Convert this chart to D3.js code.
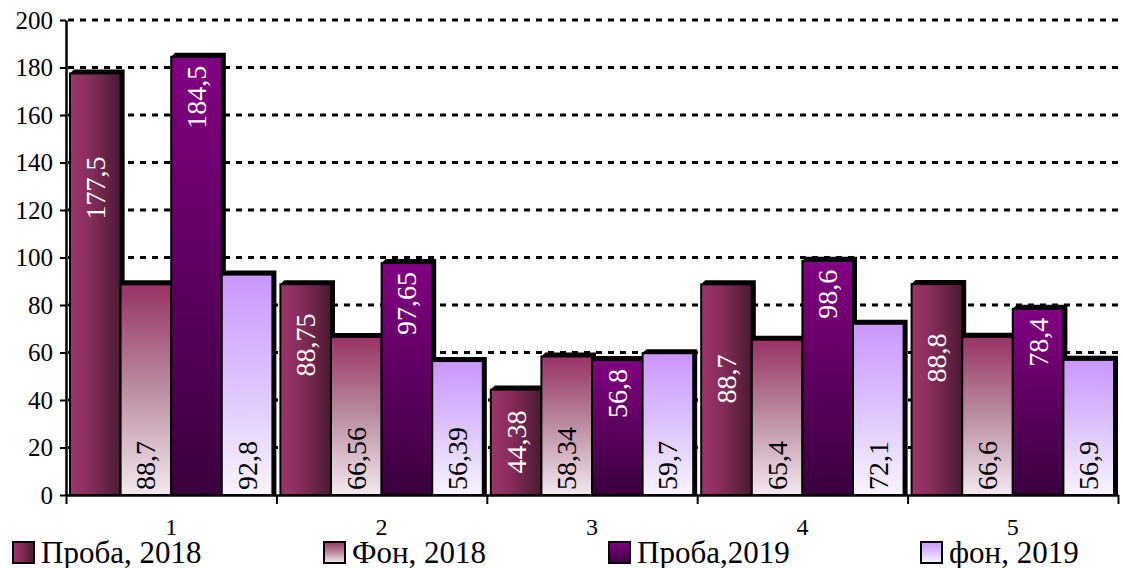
<!DOCTYPE html>
<html>
<head>
<meta charset="utf-8">
<script src="https://cdn.jsdelivr.net/npm/d3@7"></script>
<style>
  html, body { margin: 0; padding: 0; background: #fff; }
</style>
</head>
<body>
<svg id="chart" width="1123" height="568"></svg>
<script>
// Data
const categories = ["1", "2", "3", "4", "5"];
const seriesNames = ["Проба, 2018", "Фон, 2018", "Проба,2019", "фон, 2019"];
const proba2018 = [177.5, 88.75, 44.38, 88.7, 88.8];
const fon2018 = [88.7, 66.56, 58.34, 65.4, 66.6];
const proba2019 = [184.5, 97.65, 56.8, 98.6, 78.4];
const fon2019 = [92.8, 56.39, 59.7, 72.1, 56.9];
const yTicks = [0, 20, 40, 60, 80, 100, 120, 140, 160, 180, 200];
const valueLabels2018 = ["177,5", "88,75", "44,38", "88,7", "88,8"];
const valueLabelsFon2018 = ["88,7", "66,56", "58,34", "65,4", "66,6"];
const valueLabels2019 = ["184,5", "97,65", "56,8", "98,6", "78,4"];
const valueLabelsFon2019 = ["92,8", "56,39", "59,7", "72,1", "56,9"];

const seriesValues = [proba2018, fon2018, proba2019, fon2019];
const seriesLabels = [valueLabels2018, valueLabelsFon2018, valueLabels2019, valueLabelsFon2019];

// Label placement for the first series (centre of the text, in axis units)
const proba2018LabelCentre = [129.3, 63.2, 22.3, 48.8, 57.7];

const serif = "'Liberation Serif', 'Times New Roman', 'DejaVu Serif', serif";

const svg = d3.select("#chart");
const plotLeft = 66, plotRight = 1118, plotTop = 20, plotBottom = 495;

const x = d3.scaleBand().domain(categories).range([plotLeft, plotRight]).padding(0);
const inner = d3.scaleBand().domain(d3.range(4)).range([4, x.bandwidth() - 4]).padding(0);
const y = d3.scaleLinear().domain([0, 200]).range([plotBottom, plotTop]);

// Gradients
const defs = svg.append("defs");
function grad(id, x2, y2, stops) {
  const g = defs.append("linearGradient").attr("id", id)
    .attr("x1", 0).attr("y1", 0).attr("x2", x2).attr("y2", y2);
  stops.forEach(([o, c]) => g.append("stop").attr("offset", o).attr("stop-color", c));
}
grad("g0", 1, 0, [[0, "#9c3668"], [0.35, "#8a2f5d"], [1, "#4a1a34"]]);
grad("g1", 0, 1, [[0, "#993366"], [0.45, "#b6849b"], [1, "#f3e8ef"]]);
grad("g2", 0, 1, [[0, "#820082"], [1, "#3a003e"]]);
grad("g3", 0, 1, [[0, "#c996ff"], [0.5, "#ddc4fd"], [1, "#f9f4ff"]]);
const fills = ["url(#g0)", "url(#g1)", "url(#g2)", "url(#g3)"];

// Grid lines
svg.append("g")
  .selectAll("line")
  .data(yTicks.filter(t => t > 0))
  .join("line")
  .attr("x1", plotLeft + 2).attr("x2", 1122)
  .attr("y1", d => y(d)).attr("y2", d => y(d))
  .attr("stroke", "#000").attr("stroke-width", 3)
  .attr("stroke-dasharray", "6,6");

// Bars
const depth = 4;
const barsG = svg.append("g");
categories.forEach((c, ci) => {
  seriesValues.forEach((vals, si) => {
    const v = vals[ci];
    const x0 = x(c) + inner(si);
    const x1 = x0 + inner.bandwidth();
    const yt = y(v);
    // depth edge on top and right
    barsG.append("polygon")
      .attr("points", [
        [x0, yt], [x0 + depth, yt - depth], [x1 + depth, yt - depth],
        [x1 + depth, plotBottom], [x1, plotBottom]
      ].map(p => p.join(",")).join(" "))
      .attr("fill", "#000");
    barsG.append("rect")
      .attr("x", x0).attr("y", yt)
      .attr("width", inner.bandwidth()).attr("height", plotBottom - yt)
      .attr("fill", fills[si])
      .attr("stroke", "#000").attr("stroke-width", 2);
  });
});

// Value labels (rotated)
const labelsG = svg.append("g");
categories.forEach((c, ci) => {
  seriesValues.forEach((vals, si) => {
    const v = vals[ci];
    const cx = x(c) + inner(si) + inner.bandwidth() / 2;
    let yPos, anchor, colour;
    if (si === 0) {
      yPos = y(proba2018LabelCentre[ci]); anchor = "middle"; colour = "#fff";
    } else if (si === 2) {
      yPos = y(v) + 9; anchor = "end"; colour = "#fff";
    } else {
      yPos = plotBottom - 5; anchor = "start"; colour = "#000";
    }
    labelsG.append("text")
      .attr("transform", `translate(${cx},${yPos}) rotate(-90)`)
      .attr("text-anchor", anchor)
      .attr("dominant-baseline", "central")
      .style("font-family", serif)
      .style("font-size", "28px")
      .attr("fill", colour)
      .text(seriesLabels[si][ci]);
  });
});

// Y axis
const yAxis = svg.append("g")
  .attr("transform", `translate(${plotLeft},0)`)
  .call(d3.axisLeft(y).tickValues(yTicks).tickSize(6).tickSizeOuter(0).tickPadding(7).tickFormat(d3.format("d")));
yAxis.select(".domain").attr("stroke-width", 2.5);
yAxis.selectAll(".tick line").attr("stroke-width", 2);
yAxis.selectAll("text").style("font-family", serif).style("font-size", "25px").attr("fill", "#000");

// X axis boundary ticks
const xb = d3.scaleLinear().domain([0, categories.length]).range([plotLeft, plotRight]);
const xTicks = svg.append("g")
  .attr("transform", `translate(0,${plotBottom})`)
  .call(d3.axisBottom(xb).ticks(categories.length).tickSize(9).tickSizeOuter(0).tickFormat(""));
xTicks.select(".domain").attr("stroke-width", 2.5);
xTicks.selectAll(".tick line").attr("stroke-width", 2);

// Category labels
const xLab = svg.append("g")
  .attr("transform", `translate(0,${plotBottom})`)
  .call(d3.axisBottom(x).tickSize(0).tickPadding(23));
xLab.select(".domain").remove();
xLab.selectAll("text").style("font-family", serif).style("font-size", "24px").attr("fill", "#000");

// Legend
const legendX = [12, 323, 608, 920];
const legend = svg.append("g");
seriesNames.forEach((name, i) => {
  const g = legend.append("g").attr("transform", `translate(${legendX[i]},542)`);
  g.append("rect").attr("x", 1).attr("y", 0).attr("width", 21).attr("height", 21)
    .attr("fill", fills[i]).attr("stroke", "#000").attr("stroke-width", 2);
  g.append("text").attr("x", 29).attr("y", 21)
    .style("font-family", serif).style("font-size", "31px")
    .attr("fill", "#000").text(name);
});
</script>
</body>
</html>
